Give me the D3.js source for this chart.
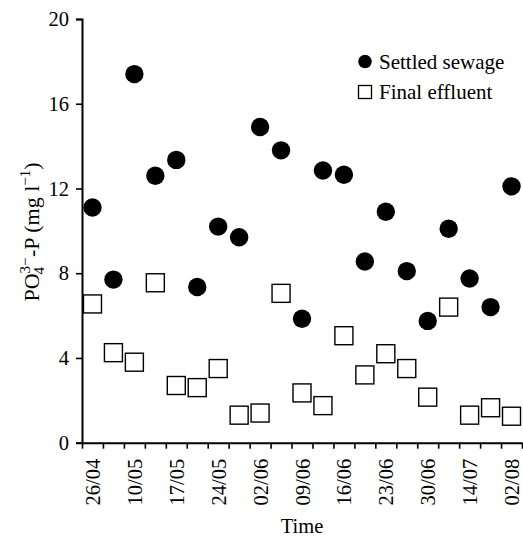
<!DOCTYPE html>
<html>
<head>
<meta charset="utf-8">
<script src="https://cdn.jsdelivr.net/npm/d3@7/dist/d3.min.js"></script>
<style>
  html, body { margin: 0; padding: 0; background: #fff; }
  svg { display: block; }
  text { font-family: "Liberation Serif", "Times New Roman", serif; fill: #000; }
</style>
</head>
<body>
<svg id="chart" width="523" height="537"></svg>
<script>
// Sampling occasions (one every half tick interval); labels are shown on every other sample
const sampleIndex = d3.range(21);
const tickLabels = ["26/04", "10/05", "17/05", "24/05", "02/06", "09/06",
                    "16/06", "23/06", "30/06", "14/07", "02/08"];

// PO4(3-)-P concentrations, mg/l
const settledSewage = [11.1, 7.7, 17.4, 12.6, 13.35, 7.35, 10.2, 9.7, 14.9, 13.8, 5.85,
                       12.85, 12.65, 8.55, 10.9, 8.1, 5.75, 10.1, 7.75, 6.4, 12.1];
const finalEffluent = [6.55, 4.25, 3.8, 7.55, 2.7, 2.6, 3.5, 1.3, 1.4, 7.05, 2.35,
                       1.75, 5.05, 3.2, 4.2, 3.5, 2.15, 6.4, 1.3, 1.65, 1.25];

const yTicks = [0, 4, 8, 12, 16, 20];

const svg = d3.select("#chart");
const plotLeft = 82, plotRight = 522, plotTop = 19, plotBottom = 442.7;

const x = d3.scaleLinear().domain([-0.5, 20.5]).range([plotLeft, plotRight]);
const y = d3.scaleLinear().domain([0, 20]).range([plotBottom, plotTop]);

// Y axis
const yAxis = svg.append("g")
  .attr("transform", `translate(${plotLeft},0)`)
  .call(d3.axisLeft(y).tickValues(yTicks).tickSize(6).tickSizeOuter(6).tickPadding(7));
yAxis.select(".domain").attr("stroke", "#000").attr("stroke-width", 2);
yAxis.selectAll(".tick line").attr("stroke", "#000").attr("stroke-width", 1.6);
yAxis.selectAll(".tick text").attr("font-size", 20.5)
  .style("font-family", '"Liberation Serif", serif');

// X axis: tick marks on the sample boundaries
const boundaries = d3.range(22).map(i => i - 0.5);
const xAxis = svg.append("g")
  .attr("transform", `translate(0,${plotBottom})`)
  .call(d3.axisBottom(x).tickValues(boundaries).tickSize(6).tickSizeOuter(0).tickFormat(""));
xAxis.select(".domain").attr("stroke", "#000").attr("stroke-width", 2);
xAxis.selectAll(".tick line").attr("stroke", "#000").attr("stroke-width", 1.6);

// X labels on every other sample, rotated
const labelled = sampleIndex.filter(i => i % 2 === 0);
const xLab = svg.append("g")
  .attr("transform", `translate(0,${plotBottom})`)
  .call(d3.axisBottom(x).tickValues(labelled).tickSize(0)
    .tickFormat((d, i) => tickLabels[i]));
xLab.select(".domain").remove();
xLab.selectAll(".tick text")
  .attr("font-size", 20.5)
  .style("font-family", '"Liberation Serif", serif')
  .attr("text-anchor", "end")
  .attr("dominant-baseline", "central")
  .attr("transform", "translate(0,16) rotate(-90)")
  .attr("x", 0).attr("y", 0).attr("dy", null);

// Final effluent: open squares
const sq = 18;
svg.append("g").selectAll("rect")
  .data(finalEffluent)
  .join("rect")
  .attr("x", (d, i) => x(i) - sq / 2)
  .attr("y", d => y(d) - sq / 2)
  .attr("width", sq).attr("height", sq)
  .attr("fill", "#fff").attr("stroke", "#000").attr("stroke-width", 1.4);

// Settled sewage: filled circles
svg.append("g").selectAll("circle")
  .data(settledSewage)
  .join("circle")
  .attr("cx", (d, i) => x(i))
  .attr("cy", d => y(d))
  .attr("r", 9.2)
  .attr("fill", "#000");

// Legend
const lg = svg.append("g");
lg.append("circle").attr("cx", 365).attr("cy", 61.5).attr("r", 6.8).attr("fill", "#000");
lg.append("text").attr("x", 379).attr("y", 68.5).attr("font-size", 21).text("Settled sewage");
lg.append("rect").attr("x", 358.5).attr("y", 85.5).attr("width", 13).attr("height", 13)
  .attr("fill", "#fff").attr("stroke", "#000").attr("stroke-width", 1.3);
lg.append("text").attr("x", 379).attr("y", 99).attr("font-size", 21).text("Final effluent");

// Axis titles
svg.append("text")
  .attr("x", (plotLeft + plotRight) / 2).attr("y", 533)
  .attr("text-anchor", "middle").attr("font-size", 20.5)
  .text("Time");

const yt = svg.append("text")
  .attr("transform", "translate(39,232) rotate(-90)")
  .attr("text-anchor", "middle").attr("font-size", 22);
yt.append("tspan").text("PO");
yt.append("tspan").attr("font-size", 15).attr("dy", -9).text("3\u2212");
yt.append("tspan").attr("font-size", 15).attr("dx", -17).attr("dy", 14).text("4");
yt.append("tspan").attr("dy", -5).attr("dx", 10).text("-P (mg l");
yt.append("tspan").attr("font-size", 15).attr("dy", -9).text("\u22121");
yt.append("tspan").attr("dy", 9).text(")");
</script>
</body>
</html>
